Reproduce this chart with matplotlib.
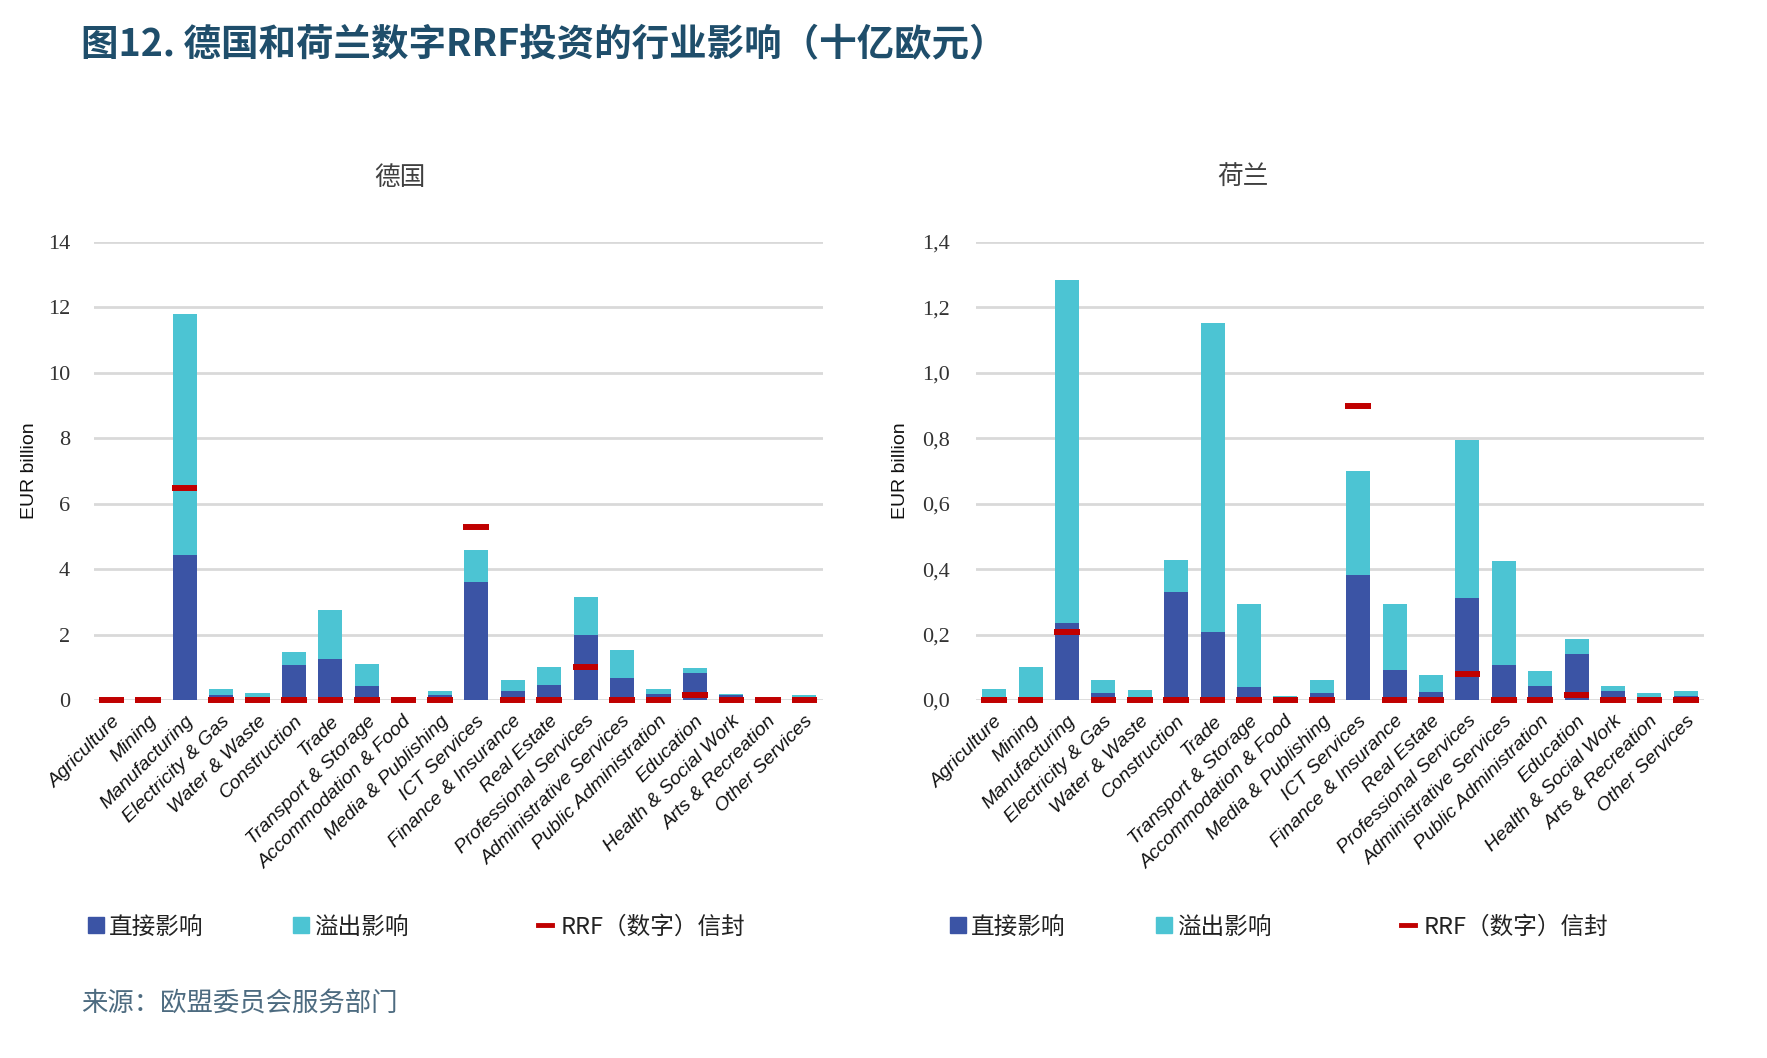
import matplotlib
matplotlib.use("Agg")
import matplotlib.pyplot as plt
from matplotlib.lines import Line2D
import numpy as np

plt.rcParams['font.family'] = ['Noto Sans CJK SC', 'DejaVu Sans']

categories = ["Agriculture", "Mining", "Manufacturing", "Electricity & Gas", "Water & Waste",
              "Construction", "Trade", "Transport & Storage", "Accommodation & Food",
              "Media & Publishing", "ICT Services", "Finance & Insurance", "Real Estate",
              "Professional Services", "Administrative Services", "Public Administration",
              "Education", "Health & Social Work", "Arts & Recreation", "Other Services"]

# Germany (EUR billion)
de_direct = [0.0, 0.0, 4.44, 0.16, 0.03, 1.07, 1.24, 0.42, 0.01, 0.14, 3.60, 0.26, 0.47,
             1.99, 0.66, 0.19, 0.84, 0.16, 0.02, 0.05]
de_spill = [0.0, 0.0, 7.37, 0.19, 0.18, 0.40, 1.52, 0.69, 0.01, 0.14, 0.97, 0.34, 0.54,
            1.17, 0.88, 0.16, 0.13, 0.03, 0.02, 0.09]
de_rrf = [0.0, 0.0, 6.47, 0.0, 0.0, 0.0, 0.0, 0.0, 0.0, 0.0, 5.29, 0.0, 0.0,
          1.01, 0.0, 0.0, 0.16, 0.0, 0.0, 0.0]

# Netherlands (EUR billion)
nl_direct = [0.002, 0.003, 0.234, 0.021, 0.002, 0.329, 0.207, 0.040, 0.005, 0.021, 0.383,
             0.093, 0.025, 0.311, 0.108, 0.044, 0.142, 0.029, 0.005, 0.013]
nl_spill = [0.032, 0.099, 1.051, 0.039, 0.028, 0.098, 0.945, 0.254, 0.007, 0.041, 0.318,
            0.201, 0.052, 0.483, 0.316, 0.046, 0.044, 0.015, 0.015, 0.015]
nl_rrf = [0.0, 0.0, 0.209, 0.0, 0.0, 0.0, 0.0, 0.0, 0.0, 0.0, 0.900, 0.0, 0.0,
          0.081, 0.0, 0.0, 0.016, 0.0, 0.0, 0.0]

de_yticks = [0, 2, 4, 6, 8, 10, 12, 14]
de_yticklabels = ["0", "2", "4", "6", "8", "10", "12", "14"]
nl_yticks = [0.0, 0.2, 0.4, 0.6, 0.8, 1.0, 1.2, 1.4]
nl_yticklabels = ["0,0", "0,2", "0,4", "0,6", "0,8", "1,0", "1,2", "1,4"]

title = "图12. 德国和荷兰数字RRF投资的行业影响（十亿欧元）"
panel_titles = ["德国", "荷兰"]
legend_labels = ["直接影响", "溢出影响", "RRF（数字）信封"]
ylabel = "EUR billion"
source = "来源：欧盟委员会服务部门"

C_DIRECT = "#3B54A5"
C_SPILL = "#4CC4D3"
C_RRF = "#C00000"
C_GRID = "#D9D9D9"

W, H = 1767, 1058
fig = plt.figure(figsize=(W / 100, H / 100), dpi=100)

def fx(px):
    return px / W

def fy(py):
    return 1 - py / H

axes_specs = [
    (93.5, 822.5, de_direct, de_spill, de_rrf, de_yticks, de_yticklabels, 14, 17, 30),
    (976, 1704, nl_direct, nl_spill, nl_rrf, nl_yticks, nl_yticklabels, 1.4, 19, 900),
]
top_px, bot_px = 242, 700
x = np.arange(len(categories))

axs = []
for (l, r, d, s, rrf, yt, ytl, ymax, pad, ylx) in axes_specs:
    ax = fig.add_axes([fx(l), fy(bot_px), (r - l) / W, (bot_px - top_px) / H])
    axs.append(ax)
    ax.bar(x, d, width=0.66, color=C_DIRECT, zorder=3)
    ax.bar(x, s, width=0.66, bottom=d, color=C_SPILL, zorder=3)
    ax.hlines(rrf, x - 0.35, x + 0.35, colors=C_RRF, linewidth=4.3, zorder=5,
              clip_on=False, capstyle='butt')
    ax.set_xlim(-0.5, len(categories) - 0.5)
    ax.set_ylim(0, ymax)
    ax.set_yticks(yt)
    ax.set_yticklabels(ytl, fontfamily="Liberation Serif", fontsize=16, color="#333333")
    ax.yaxis.grid(True, color=C_GRID, linewidth=2, zorder=0)
    ax.set_axisbelow(True)
    for sp in ax.spines.values():
        sp.set_visible(False)
    ax.tick_params(axis='y', length=0, pad=pad)
    ax.tick_params(axis='x', length=0, pad=9)
    ax.set_xticks(x)
    ax.set_xticklabels(categories, rotation=45, ha='right', rotation_mode='anchor',
                       fontfamily="Liberation Sans", fontstyle='italic', fontsize=14,
                       color="#111111")
    fig.text(fx(ylx), fy((top_px + bot_px) / 2), ylabel, rotation=90, ha='center',
             va='center', fontfamily="Liberation Sans", fontsize=14, color="#111111")

# panel titles
fig.text(fx(400), fy(178), panel_titles[0], ha='center', va='center', fontsize=18.5, color="#404040")
fig.text(fx(1243), fy(178), panel_titles[1], ha='center', va='center', fontsize=18.5, color="#404040")

# main title
fig.text(fx(81), fy(45), title, ha='left', va='center', fontsize=27, fontweight='bold',
         color="#1F4E6B")

# legends
handles = [
    Line2D([], [], marker='s', ls='none', ms=11, color=C_DIRECT),
    Line2D([], [], marker='s', ls='none', ms=11, color=C_SPILL),
    Line2D([], [], color=C_RRF, lw=3.5),
]
leg_pos = [[(96, 927), (301, 927), (546, 927)], [(958, 927), (1164, 927), (1409, 927)]]
for positions in leg_pos:
    for h, lab, (px, py) in zip(handles, legend_labels, positions):
        hl = 0.6 if lab.startswith("RRF") else 0.7
        tp = 0.35 if lab.startswith("RRF") else 0.2
        leg = fig.legend([h], [lab], loc='center left', bbox_to_anchor=(fx(px - 8), fy(py)),
                         frameon=False, fontsize=17, handlelength=hl, handletextpad=tp,
                         borderpad=0, borderaxespad=0)
        for t in leg.get_texts():
            t.set_color("#222222")

fig.text(fx(81), fy(1003), source, ha='left', va='center', fontsize=19, color="#4D6B80")

fig.savefig("out.png", dpi=100)
